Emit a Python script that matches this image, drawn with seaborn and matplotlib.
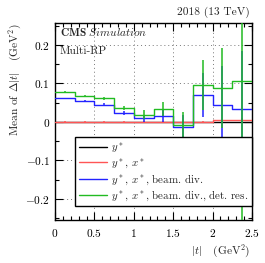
import numpy as np
import pandas as pd
import seaborn as sns
import matplotlib.pyplot as plt
from matplotlib.ticker import MultipleLocator, FuncFormatter
from matplotlib.lines import Line2D

# bin edges in |t| (GeV^2)
t_edges = [0.0, 0.25, 0.5, 0.75, 1.0, 1.25, 1.5, 1.75, 2.0, 2.25, 2.5]

# mean of Delta|t| per bin, for each smearing configuration
mean_y = [0.0, 0.0, 0.0, 0.0, 0.0, 0.0, 0.0, 0.0, 0.0, 0.0]
mean_yx = [0.001, 0.001, 0.001, 0.001, 0.001, 0.001, 0.001, 0.001, 0.004, 0.006]
mean_beam = [0.061, 0.055, 0.045, 0.023, 0.009, 0.016, -0.013, 0.071, 0.045, 0.034]
mean_det = [0.078, 0.067, 0.061, 0.036, 0.019, 0.034, -0.009, 0.096, 0.088, 0.106]

err_yx = [0.0005, 0.0005, 0.0005, 0.0005, 0.0005, 0.0005, 0.001, 0.001, 0.002, 0.003]
err_beam = [0.002, 0.002, 0.003, 0.005, 0.01, 0.015, 0.03, 0.057, 0.10, 0.15]
err_det = [0.003, 0.003, 0.004, 0.006, 0.012, 0.018, 0.036, 0.065, 0.105, 0.40]

labels = [r"$y^*$", r"$y^*$, $x^*$", r"$y^*$, $x^*$, beam. div.",
          r"$y^*$, $x^*$, beam. div., det. res."]
colors = ["#000000", "#ff5555", "#2222ff", "#22bb22"]

sns.set_style("ticks")
plt.rcParams['font.family'] = ['cmr10', 'DejaVu Serif']
plt.rcParams['mathtext.fontset'] = 'cm'
plt.rcParams['axes.formatter.use_mathtext'] = True
plt.rcParams['axes.unicode_minus'] = False

# long table for seaborn: step values repeated at the last edge
rows = []
for lab, vals in zip(labels, [mean_y, mean_yx, mean_beam, mean_det]):
    ext = list(vals) + [vals[-1]]
    for t, v in zip(t_edges, ext):
        rows.append({'t': t, 'mean': v, 'config': lab})
df = pd.DataFrame(rows)

fig = plt.figure(figsize=(2.65, 2.63), dpi=100)
ax = fig.add_axes([0.2075, 0.1635, 0.7435, 0.7502])

# grid first so it stays behind
ax.grid(True, which='major', color='#777777', linestyle=(0, (1, 3)), linewidth=0.7)
ax.set_axisbelow(True)

centers = [(a + b) / 2 for a, b in zip(t_edges[:-1], t_edges[1:])]
series = [(mean_y, None), (mean_yx, err_yx), (mean_beam, err_beam), (mean_det, err_det)]
for i, (lab, col, (vals, errs)) in enumerate(zip(labels, colors, series)):
    sns.lineplot(data=df[df['config'] == lab], x='t', y='mean', color=col,
                 drawstyle='steps-post', linewidth=1.0, legend=False, ax=ax,
                 zorder=2 + i)
    if errs is not None:
        ax.errorbar(centers, vals, yerr=errs, fmt='none', ecolor=col,
                    elinewidth=1.1, capsize=0, zorder=2 + i)

ax.set_xlim(0, 2.5)
ax.set_ylim(-0.255, 0.258)
ax.xaxis.set_major_locator(MultipleLocator(0.5))
ax.xaxis.set_minor_locator(MultipleLocator(0.1))
ax.yaxis.set_major_locator(MultipleLocator(0.1))
ax.yaxis.set_minor_locator(MultipleLocator(0.05))
fmt = FuncFormatter(lambda v, p: "$%g$" % round(v, 3))
ax.xaxis.set_major_formatter(fmt)
ax.yaxis.set_major_formatter(fmt)
ax.tick_params(which='both', direction='in', top=True, right=True,
               labelsize=8.2, colors='black', width=0.8)
ax.tick_params(which='major', length=5.8)
ax.tick_params(axis='y', which='major', pad=3.5)
ax.tick_params(axis='x', which='major', pad=5)
ax.tick_params(which='minor', length=3)
for s in ax.spines.values():
    s.set_linewidth(1.0)
    s.set_color('black')
ax.set_xlabel('')
ax.set_ylabel('')

handles = [Line2D([0], [0], color=c, lw=1.0) for c in colors]
leg = ax.legend(handles, labels, loc='lower right', bbox_to_anchor=(1.0, 0.07),
                fontsize=7.9, frameon=True, fancybox=False, framealpha=1.0,
                edgecolor='black', borderpad=0.3, labelspacing=0.15,
                handlelength=2.6, handletextpad=0.4, borderaxespad=0.0)
leg.get_frame().set_linewidth(1.0)
leg.set_zorder(10)

ax.text(0.025, 0.933, r"$\mathbf{CMS}\ \mathit{Simulation}$", transform=ax.transAxes,
        ha='left', va='baseline', fontsize=8.2)
ax.text(0.025, 0.84, "Multi-RP", transform=ax.transAxes, ha='left', va='baseline',
        fontsize=8.2)

fig.text(0.943, 0.943, "2018 (13 TeV)", ha='right', va='baseline', fontsize=8.2)
fig.text(0.943, 0.034, r"$|t|$   (GeV$^2$)", ha='right', va='baseline', fontsize=8.2)
fig.text(0.06, 0.913, r"Mean of $\Delta|t|$   (GeV$^2$)", ha='center', va='top',
         rotation=90, fontsize=8.2)

fig.savefig('out.png', dpi=100)
